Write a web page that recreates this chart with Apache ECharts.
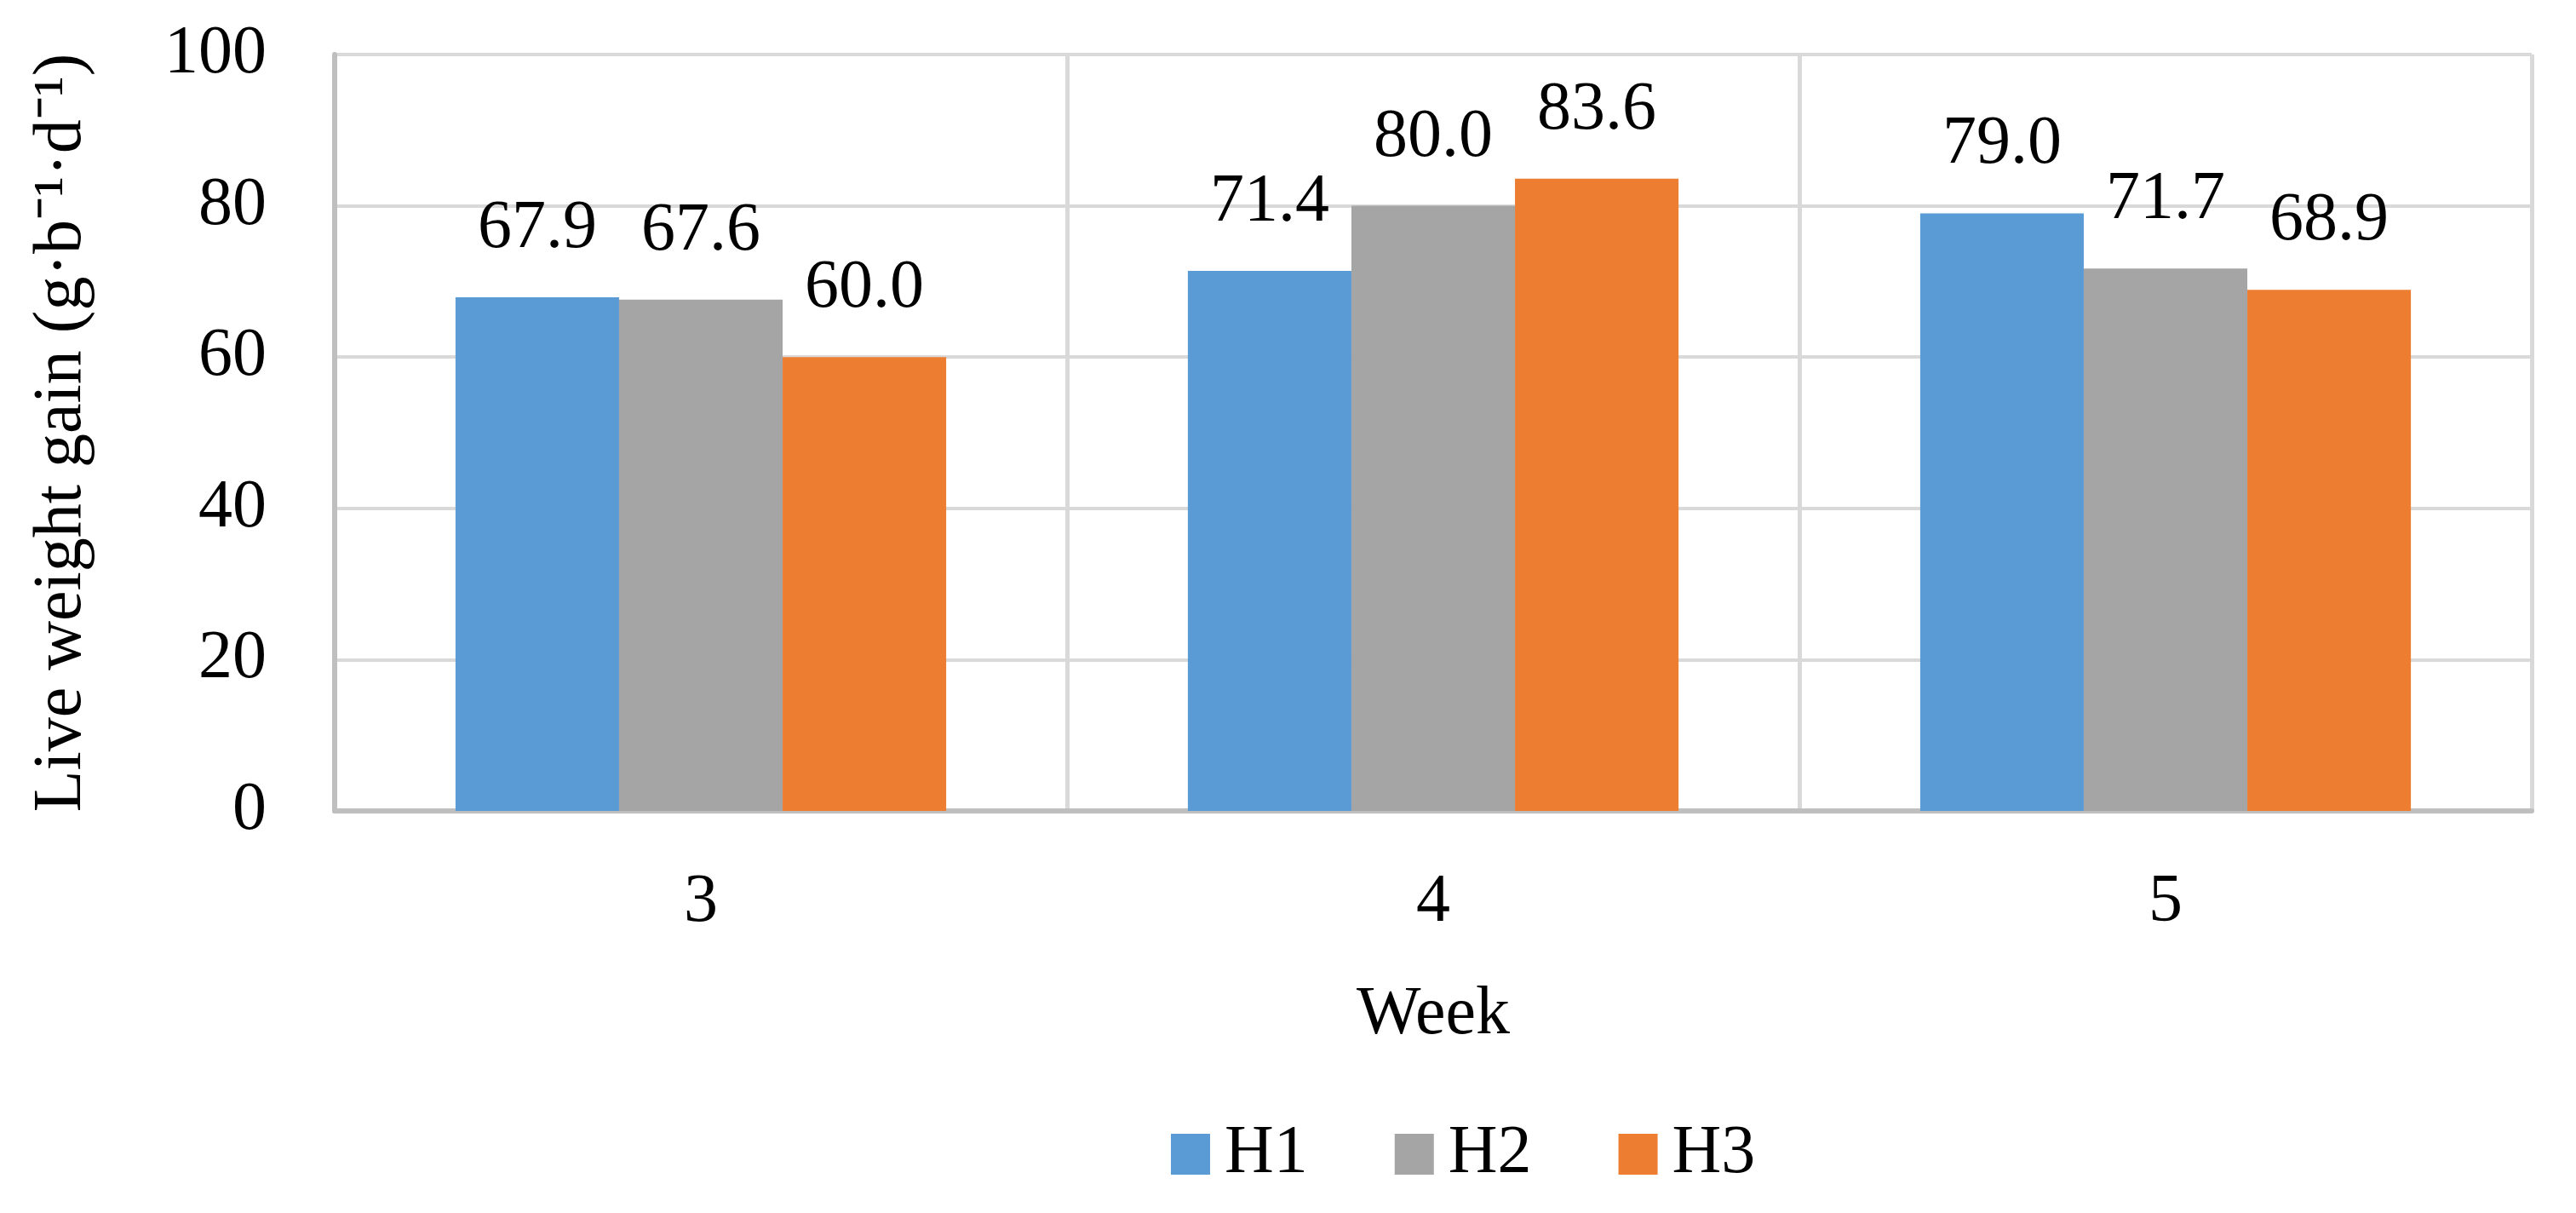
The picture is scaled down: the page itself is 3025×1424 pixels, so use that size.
<!DOCTYPE html>
<html>
<head>
<meta charset="utf-8">
<script src="https://cdn.jsdelivr.net/npm/echarts@6/dist/echarts.min.js"></script>
<style>
html,body{margin:0;padding:0;background:#fff;}
#chart{width:3025px;height:1424px;}
</style>
</head>
<body>
<div id="chart"></div>
<script>
const weeks = ['3', '4', '5'];
const seriesNames = ['H1', 'H2', 'H3'];
const h1 = [67.9, 71.4, 79.0];
const h2 = [67.6, 80.0, 71.7];
const h3 = [60.0, 83.6, 68.9];
const colors = ['#5B9BD5', '#A5A5A5', '#ED7D31'];
const yTicks = { min: 0, max: 100, interval: 20 };

const FONT = 'Liberation Serif';
const FS = 80;

const chart = echarts.init(document.getElementById('chart'), null, { renderer: 'canvas' });

function mk(name, data, color) {
  return {
    name: name,
    type: 'bar',
    data: data,
    barGap: '0%',
    barCategoryGap: '33%',
    itemStyle: { color: color },
    label: {
      show: true,
      position: 'top',
      distance: 40,
      color: '#000',
      fontFamily: FONT,
      fontSize: FS,
      formatter: p => p.value.toFixed(1)
    }
  };
}

chart.setOption({
  animation: false,
  backgroundColor: '#fff',
  grid: { left: 393, right: 52, top: 64, bottom: 472, containLabel: false },
  legend: {
    data: seriesNames,
    left: 1370,
    top: 1310,
    itemWidth: 46,
    itemHeight: 48,
    itemGap: 102,
    icon: 'rect',
    textStyle: { fontFamily: FONT, fontSize: FS, color: '#000', padding: [0, 0, 0, 12] }
  },
  xAxis: {
    type: 'category',
    data: weeks,
    name: 'Week',
    nameLocation: 'middle',
    nameGap: 200,
    nameTextStyle: { fontFamily: FONT, fontSize: FS, color: '#000' },
    axisLine: { show: true, lineStyle: { color: '#BFBFBF', width: 6 } },
    axisTick: { show: false },
    axisLabel: { fontFamily: FONT, fontSize: FS, color: '#000', margin: 68 },
    splitLine: { show: true, lineStyle: { color: '#D9D9D9', width: 5 } }
  },
  yAxis: {
    type: 'value',
    min: yTicks.min,
    max: yTicks.max,
    interval: yTicks.interval,
    name: 'Live weight gain (g·b⁻¹·d⁻¹)',
    nameLocation: 'middle',
    nameGap: 280,
    nameTextStyle: { fontFamily: FONT, fontSize: FS, color: '#000' },
    axisLine: { show: true, lineStyle: { color: '#BFBFBF', width: 6 } },
    axisTick: { show: false },
    axisLabel: { fontFamily: FONT, fontSize: FS, color: '#000', margin: 80 },
    splitLine: { show: true, lineStyle: { color: '#D9D9D9', width: 4 } }
  },
  series: [
    mk(seriesNames[0], h1, colors[0]),
    mk(seriesNames[1], h2, colors[1]),
    mk(seriesNames[2], h3, colors[2])
  ]
});
</script>
</body>
</html>
